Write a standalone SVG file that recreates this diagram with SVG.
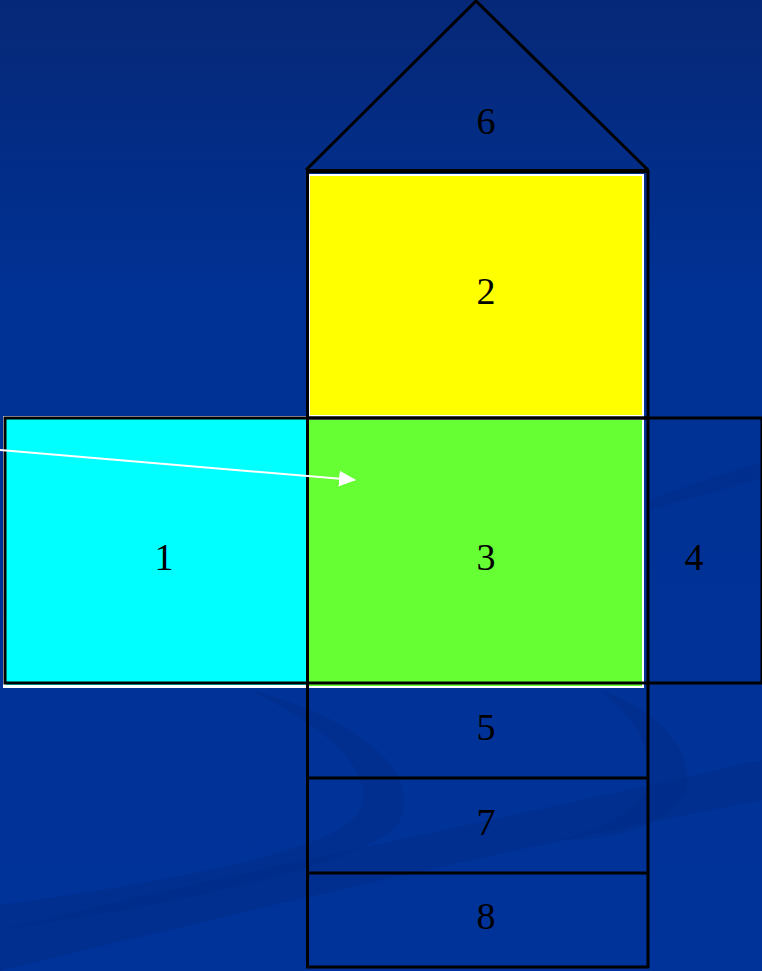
<svg xmlns="http://www.w3.org/2000/svg" width="762" height="971" viewBox="0 0 762 971">
<defs>
<linearGradient id="bg" x1="0" y1="0" x2="0" y2="1">
<stop offset="0" stop-color="#062877"/>
<stop offset="0.3" stop-color="#003194"/>
<stop offset="1" stop-color="#003399"/>
</linearGradient>
<marker id="ah" markerWidth="17" markerHeight="16" refX="16" refY="8" orient="auto" markerUnits="userSpaceOnUse">
<path d="M0,0 L17,8 L0,16 Z" fill="#ffffff"/>
</marker>
<style>
.ln{fill:none;stroke:#000;stroke-width:3}
.lb{font-family:"Liberation Serif","Times New Roman",serif;font-size:38px;fill:#000;text-anchor:middle}
.sw{fill:#002b88;opacity:0.5}
</style>
</defs>
<rect width="762" height="971" fill="url(#bg)"/>
<g id="background-swooshes">
<path class="sw" d="M0,930 C200,880 500,820 762,760 L762,800 C500,850 250,910 0,971 Z"/>
<path class="sw" d="M250,690 C360,720 420,770 400,820 C380,860 200,900 0,930 L0,905 C180,880 340,850 360,810 C375,770 330,730 250,690 Z"/>
<path class="sw" d="M600,690 C680,720 700,770 680,800 C660,830 600,840 560,840 C620,825 650,800 650,775 C650,740 630,715 600,690 Z"/>
<path class="sw" d="M650,500 C700,480 740,470 762,462 L762,478 C740,485 700,495 650,510 Z"/>
</g>
<g id="face-1">
<rect x="3" y="416" width="305" height="272" fill="#ffffff"/>
<rect x="6" y="419" width="301" height="266" fill="#00ffff"/>
<text class="lb" x="164" y="570">1</text>
</g>
<g id="face-2">
<rect x="309" y="174" width="335" height="243" fill="#ffffff"/>
<rect x="310" y="176" width="332" height="239" fill="#ffff00"/>
<text class="lb" x="486" y="304">2</text>
</g>
<g id="face-3">
<rect x="309" y="418" width="335" height="270" fill="#ffffff"/>
<rect x="309" y="420" width="333" height="266" fill="#66ff33"/>
<text class="lb" x="486" y="570">3</text>
</g>
<g id="face-6">
<path class="ln" d="M306,170 L476,1 L648,170"/>
<text class="lb" x="486" y="134">6</text>
</g>
<g id="outlines">
<rect class="ln" x="5" y="418" width="757" height="265"/>
<line class="ln" x1="306" y1="171" x2="649" y2="171" style="stroke-width:4"/>
<line class="ln" x1="307.5" y1="170" x2="307.5" y2="968"/>
<line class="ln" x1="648" y1="170" x2="648" y2="968"/>
<line class="ln" x1="306" y1="418" x2="649" y2="418"/>
<line class="ln" x1="306" y1="778" x2="649" y2="778"/>
<line class="ln" x1="306" y1="873" x2="649" y2="873"/>
<line class="ln" x1="306" y1="967" x2="649" y2="967"/>
</g>
<g id="face-4">
<text class="lb" x="694" y="570">4</text>
</g>
<g id="face-5">
<text class="lb" x="486" y="740">5</text>
</g>
<g id="face-7">
<text class="lb" x="486" y="835">7</text>
</g>
<g id="face-8">
<text class="lb" x="486" y="929">8</text>
</g>
<g id="connectors">
<line x1="0" y1="450" x2="355" y2="480" stroke="#ffffff" stroke-width="2" marker-end="url(#ah)"/>
</g>
</svg>
